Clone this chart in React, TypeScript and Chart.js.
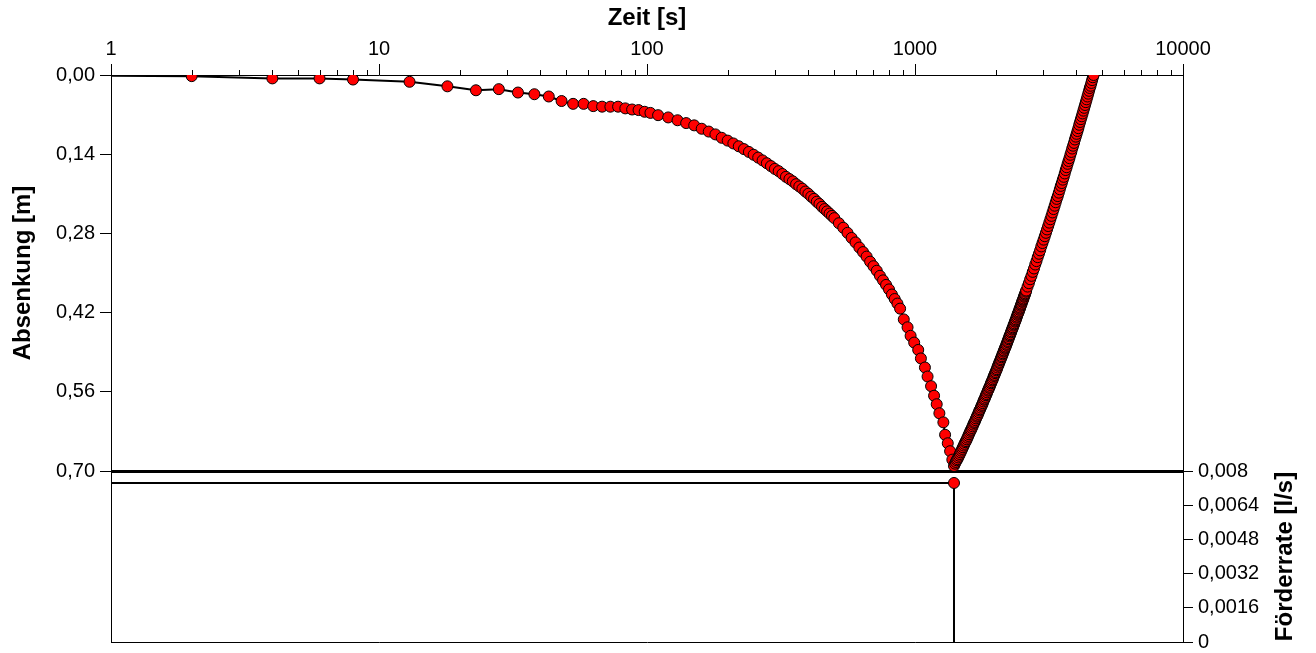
import React, { useEffect, useRef } from 'react';
import { Chart, registerables } from 'chart.js';

Chart.register(...registerables);

// ---------- data ----------
// Pumping phase: time [s] and drawdown [m]
const pumpTime = [
  0.5, 2, 4, 6, 8, 13, 18, 23, 28, 33, 38, 43, 48, 53, 58, 63, 68, 73, 78, 83, 88, 93, 98, 103,
  110, 120, 130, 140, 150, 160, 170, 180, 190, 200,
  210, 220, 230, 240, 250, 260, 270, 280, 290, 300,
  310, 320, 330, 340, 350, 360, 370, 380, 390, 400,
  410, 420, 430, 440, 450, 460, 470, 480, 490, 500,
  520, 540, 560, 580, 600, 620, 640, 660, 680, 700,
  720, 740, 760, 780, 800, 820, 840, 860, 880,
  908, 938, 963, 993, 1028, 1052, 1089, 1114, 1148, 1178, 1205, 1233, 1276, 1295, 1325, 1352, 1378, 1398,
];
const pumpDrawdown = [
  0.001, 0.002, 0.006, 0.006, 0.008, 0.012, 0.020, 0.027, 0.025, 0.031, 0.034, 0.038, 0.046, 0.051, 0.051, 0.055, 0.056, 0.056, 0.056, 0.059, 0.061, 0.062, 0.065, 0.067,
  0.071, 0.075, 0.080, 0.085, 0.089, 0.095, 0.100, 0.105, 0.111, 0.116,
  0.121, 0.126, 0.131, 0.136, 0.141, 0.146, 0.151, 0.156, 0.161, 0.166,
  0.170, 0.175, 0.180, 0.184, 0.188, 0.193, 0.197, 0.201, 0.206, 0.210,
  0.215, 0.219, 0.224, 0.228, 0.233, 0.237, 0.241, 0.245, 0.249, 0.253,
  0.262, 0.270, 0.279, 0.288, 0.296, 0.305, 0.313, 0.321, 0.330, 0.338,
  0.346, 0.355, 0.363, 0.371, 0.379, 0.388, 0.396, 0.404, 0.413,
  0.432, 0.446, 0.461, 0.473, 0.486, 0.501, 0.517, 0.533, 0.550, 0.567, 0.582, 0.598, 0.614, 0.636, 0.651, 0.665, 0.680, 0.691,
];

// Recovery phase: time [s] and drawdown [m]
const recoveryTime = [
  1410, 1420, 1430, 1440, 1450, 1460, 1470, 1480, 1490, 1500,
  1510, 1520, 1530, 1540, 1550, 1560, 1570, 1580, 1590, 1600,
  1610, 1620, 1630, 1640, 1650, 1660, 1670, 1680, 1690, 1700,
  1710, 1720, 1730, 1740, 1750, 1760, 1770, 1780, 1790, 1800,
  1810, 1820, 1830, 1840, 1850, 1860, 1870, 1880, 1890, 1900,
  1910, 1920, 1930, 1940, 1950, 1960, 1970, 1980, 1990, 2000,
  2010, 2020, 2030, 2040, 2050, 2060, 2070, 2080, 2090, 2100,
  2110, 2120, 2130, 2140, 2150, 2160, 2170, 2180, 2190, 2200,
  2210, 2220, 2230, 2240, 2250, 2260, 2270, 2280, 2290, 2300,
  2310, 2320, 2330, 2340, 2350, 2360, 2370, 2380, 2390, 2400,
  2410, 2420, 2430, 2440, 2450, 2460, 2470, 2480, 2490, 2500,
  2510, 2520, 2530, 2540, 2550, 2560, 2570, 2580, 2590, 2600,
  2630, 2660, 2690, 2720, 2750, 2780, 2810, 2840, 2870, 2900,
  2930, 2960, 2990, 3020, 3050, 3080, 3110, 3140, 3170, 3200,
  3230, 3260, 3290, 3320, 3350, 3380, 3410, 3440, 3470, 3500,
  3530, 3560, 3590, 3620, 3650, 3680, 3710, 3740, 3770, 3800,
  3830, 3860, 3890, 3920, 3950, 3980, 4010, 4040, 4070, 4100,
  4130, 4160, 4190, 4220, 4250, 4280, 4310, 4340, 4370, 4400,
  4430, 4460, 4490, 4520, 4550, 4580, 4610, 4640,
];
const recoveryDrawdown = [
  0.687, 0.684, 0.681, 0.679, 0.676, 0.673, 0.670, 0.667, 0.664, 0.661,
  0.658, 0.655, 0.652, 0.649, 0.647, 0.644, 0.641, 0.638, 0.635, 0.632,
  0.629, 0.627, 0.624, 0.621, 0.618, 0.615, 0.613, 0.610, 0.607, 0.604,
  0.602, 0.599, 0.596, 0.593, 0.591, 0.588, 0.585, 0.583, 0.580, 0.577,
  0.574, 0.572, 0.569, 0.566, 0.564, 0.561, 0.558, 0.556, 0.553, 0.551,
  0.548, 0.545, 0.543, 0.540, 0.538, 0.535, 0.532, 0.530, 0.527, 0.525,
  0.522, 0.520, 0.517, 0.514, 0.512, 0.509, 0.507, 0.504, 0.502, 0.499,
  0.497, 0.494, 0.492, 0.489, 0.487, 0.484, 0.482, 0.480, 0.477, 0.475,
  0.472, 0.470, 0.467, 0.465, 0.462, 0.460, 0.458, 0.455, 0.453, 0.450,
  0.448, 0.446, 0.443, 0.441, 0.439, 0.436, 0.434, 0.432, 0.429, 0.427,
  0.424, 0.422, 0.420, 0.418, 0.415, 0.413, 0.411, 0.408, 0.406, 0.404,
  0.401, 0.399, 0.397, 0.395, 0.392, 0.390, 0.388, 0.386, 0.383, 0.381,
  0.374, 0.368, 0.361, 0.355, 0.348, 0.342, 0.335, 0.329, 0.322, 0.316,
  0.310, 0.303, 0.297, 0.291, 0.285, 0.279, 0.273, 0.267, 0.261, 0.255,
  0.249, 0.243, 0.237, 0.231, 0.225, 0.219, 0.214, 0.208, 0.202, 0.196,
  0.191, 0.185, 0.180, 0.174, 0.168, 0.163, 0.157, 0.152, 0.147, 0.141,
  0.136, 0.130, 0.125, 0.120, 0.114, 0.109, 0.104, 0.099, 0.094, 0.088,
  0.083, 0.078, 0.073, 0.068, 0.063, 0.058, 0.053, 0.048, 0.043, 0.038,
  0.033, 0.028, 0.023, 0.019, 0.014, 0.009, 0.004, 0.000,
];

// Pumping rate [l/s]
const rateTime = [1, 1398, 1398];
const rateValue = [0.00744, 0.00744, 0];

// Tick values
const drawdownTicks = [0, 0.14, 0.28, 0.42, 0.56, 0.7];
const rateTicks = [0, 0.0016, 0.0032, 0.0048, 0.0064, 0.008];

const FONT = '"Liberation Sans", Arial, Helvetica, sans-serif';
const TICK_SIZE = 20;
const TITLE_SIZE = 24;

const isDecade = (v: number) => {
  const l = Math.log10(v);
  return Math.abs(l - Math.round(l)) < 1e-9;
};
const isIntegerMantissa = (v: number) => {
  const e = Math.floor(Math.log10(v) + 1e-9);
  const m = v / Math.pow(10, e);
  return Math.abs(m - Math.round(m)) < 1e-6;
};

const extrasPlugin = {
  id: 'minorTicksAndRightTitle',
  afterDraw(chart: any) {
    const ctx = chart.ctx;
    const xs = chart.scales.x;
    ctx.save();
    ctx.strokeStyle = '#000';
    ctx.lineWidth = 1;
    ctx.beginPath();
    for (const t of xs.ticks) {
      if (isDecade(t.value)) continue;
      const px = Math.round(xs.getPixelForValue(t.value)) + 0.5;
      ctx.moveTo(px, xs.bottom);
      ctx.lineTo(px, xs.bottom - 5);
    }
    ctx.stroke();
    const q = chart.scales.q;
    ctx.translate(q.right - 31, (q.top + q.bottom) / 2);
    ctx.rotate(-Math.PI / 2);
    ctx.font = `bold ${TITLE_SIZE}px ${FONT}`;
    ctx.fillStyle = '#000';
    ctx.textAlign = 'center';
    ctx.textBaseline = 'middle';
    ctx.fillText('Förderrate [l/s]', 0, 0);
    ctx.restore();
  },
};

const noPadV = (s: any) => {
  s.paddingTop = 0;
  s.paddingBottom = 0;
};

export default function App() {
  const canvasRef = useRef<HTMLCanvasElement | null>(null);

  useEffect(() => {
    if (!canvasRef.current) return;
    Chart.defaults.font.family = FONT;
    Chart.defaults.color = '#000';

    const drawdownData = pumpTime
      .map((t, i) => ({ x: t, y: pumpDrawdown[i] }))
      .concat(recoveryTime.map((t, i) => ({ x: t, y: recoveryDrawdown[i] })));
    const rateData = rateTime.map((t, i) => ({ x: t, y: rateValue[i] }));

    const chart = new Chart(canvasRef.current, {
      type: 'scatter',
      data: {
        datasets: [
          {
            label: 'Absenkung',
            data: drawdownData,
            xAxisID: 'x',
            yAxisID: 'y',
            showLine: true,
            borderColor: '#000',
            borderWidth: 2,
            pointRadius: 5.5,
            pointBackgroundColor: '#ff0000',
            pointBorderColor: '#000',
            pointBorderWidth: 1,
            tension: 0,
            clip: 0,
          } as any,
          {
            label: 'Förderrate',
            data: rateData,
            xAxisID: 'x',
            yAxisID: 'q',
            showLine: true,
            borderColor: '#000',
            borderWidth: 2,
            pointRadius: [0, 5.5, 0],
            pointBackgroundColor: '#ff0000',
            pointBorderColor: '#000',
            pointBorderWidth: 1,
            tension: 0,
            clip: 0,
          } as any,
        ],
      },
      options: {
        responsive: false,
        animation: false,
        events: [],
        layout: { padding: { left: 0, right: 0, top: 0, bottom: 11 } },
        plugins: { legend: { display: false }, tooltip: { enabled: false } },
        scales: {
          x: {
            type: 'logarithmic',
            axis: 'x',
            position: 'top',
            min: 1,
            max: 10000,
            afterBuildTicks: (s: any) => {
              s.ticks = s.ticks.filter((t: any) => isIntegerMantissa(t.value));
            },
            afterFit: (s: any) => {
              s.height = 75;
              s.paddingLeft = 0;
              s.paddingRight = 0;
            },
            ticks: {
              autoSkip: false,
              maxRotation: 0,
              padding: 3,
              font: { size: TICK_SIZE },
              color: '#000',
              callback: (v: any) => (isDecade(Number(v)) ? String(v) : ''),
            },
            grid: {
              drawOnChartArea: false,
              tickLength: 11,
              lineWidth: 1,
              color: (c: any) => (c.tick && isDecade(c.tick.value) ? '#000' : 'rgba(0,0,0,0)'),
            },
            border: { display: true, color: '#000', width: 1 },
            title: {
              display: true,
              text: 'Zeit [s]',
              font: { size: TITLE_SIZE, weight: 'bold' },
              color: '#000',
              padding: { top: 4, bottom: 0 },
            },
          },
          xb: {
            type: 'linear',
            axis: 'x',
            position: 'bottom',
            min: 0,
            max: 1,
            afterFit: (s: any) => {
              s.height = 0;
              s.paddingLeft = 0;
              s.paddingRight = 0;
            },
            ticks: { display: false },
            grid: { display: false, drawTicks: false },
            border: { display: true, color: '#000', width: 1 },
          },
          y: {
            type: 'linear',
            axis: 'y',
            position: 'left',
            stack: 'left',
            stackWeight: 396,
            weight: 1,
            reverse: true,
            min: 0,
            max: 0.7,
            afterBuildTicks: (s: any) => {
              s.ticks = drawdownTicks.map((v) => ({ value: v }));
            },
            afterFit: (s: any) => {
              s.width = 111;
              noPadV(s);
            },
            ticks: {
              autoSkip: false,
              padding: 5,
              font: { size: TICK_SIZE },
              color: '#000',
              callback: (v: any) => Number(v).toFixed(2).replace('.', ','),
            },
            grid: {
              drawOnChartArea: true,
              tickLength: 11,
              color: (c: any) => (c.tick && Math.abs(c.tick.value - 0.7) < 1e-9 ? '#000' : 'rgba(0,0,0,0)'),
              lineWidth: (c: any) => (c.tick && Math.abs(c.tick.value - 0.7) < 1e-9 ? 3 : 1),
              tickColor: '#000',
              tickWidth: 1,
            },
            border: { display: true, color: '#000', width: 1 },
            title: {
              display: true,
              text: 'Absenkung [m]',
              font: { size: TITLE_SIZE, weight: 'bold' },
              color: '#000',
              padding: { top: 9, bottom: 0 },
            },
          },
          yLow: {
            type: 'linear',
            axis: 'y',
            position: 'left',
            stack: 'left',
            stackWeight: 171,
            weight: 0,
            afterFit: (s: any) => {
              s.width = 111;
              noPadV(s);
            },
            ticks: { display: false },
            grid: { display: false, drawTicks: false },
            border: { display: true, color: '#000', width: 1 },
          },
          yHigh: {
            type: 'linear',
            axis: 'y',
            position: 'right',
            stack: 'right',
            stackWeight: 396,
            weight: 0,
            afterFit: (s: any) => {
              s.width = 133;
              noPadV(s);
            },
            ticks: { display: false },
            grid: { display: false, drawTicks: false },
            border: { display: true, color: '#000', width: 1 },
          },
          q: {
            type: 'linear',
            axis: 'y',
            position: 'right',
            stack: 'right',
            stackWeight: 171,
            weight: 1,
            min: 0,
            max: 0.008,
            afterBuildTicks: (s: any) => {
              s.ticks = rateTicks.map((v) => ({ value: v }));
            },
            afterFit: (s: any) => {
              s.width = 133;
              noPadV(s);
            },
            ticks: {
              autoSkip: false,
              padding: 5,
              font: { size: TICK_SIZE },
              color: '#000',
              callback: (v: any) => {
                const n = Number(v);
                return n === 0 ? '0' : String(Number(n.toFixed(4))).replace('.', ',');
              },
            },
            grid: {
              drawOnChartArea: false,
              tickLength: 10,
              color: '#000',
              lineWidth: 1,
            },
            border: { display: true, color: '#000', width: 1 },
          },
        } as any,
      },
      plugins: [extrasPlugin],
    });

    return () => {
      chart.destroy();
    };
  }, []);

  return (
    <div style={{ position: 'fixed', left: 0, top: 0, width: 1316, height: 653, background: '#fff' }}>
      <canvas ref={canvasRef} width={1316} height={653} style={{ display: 'block' }} />
    </div>
  );
}
